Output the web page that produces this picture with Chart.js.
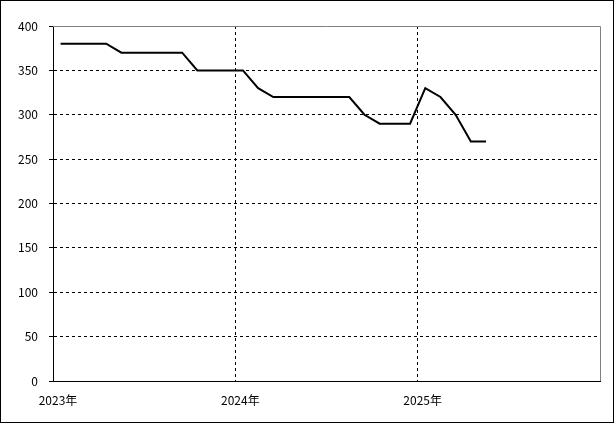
<!DOCTYPE html>
<html>
<head>
<meta charset="utf-8">
<script src="https://cdn.jsdelivr.net/npm/chart.js@4"></script>
<style>
    html, body { margin: 0; padding: 0; background: #fff; }
    #wrap { width: 615px; height: 424px; position: relative; }
</style>
</head>
<body>
<div id="wrap"><canvas id="chart" width="615" height="424"></canvas></div>
<script>
const CHART = document.getElementById("chart").getContext("2d");

// monthly values, Jan 2023 .. May 2025
const months = [
    "2023-01", "2023-02", "2023-03", "2023-04", "2023-05", "2023-06",
    "2023-07", "2023-08", "2023-09", "2023-10", "2023-11", "2023-12",
    "2024-01", "2024-02", "2024-03", "2024-04", "2024-05", "2024-06",
    "2024-07", "2024-08", "2024-09", "2024-10", "2024-11", "2024-12",
    "2025-01", "2025-02", "2025-03", "2025-04", "2025-05"
];
const values = [
    380, 380, 380, 380, 370, 370,
    370, 370, 370, 350, 350, 350,
    350, 330, 320, 320, 320, 320,
    320, 320, 300, 290, 290, 290,
    330, 320, 300, 270, 270
];
const yearLabels = ["2023年", "2024年", "2025年", ""];
const firstYear = 2023;

let points = [];
months.forEach(function (m, i) {
    let parts = m.split("-");
    let idx = (parseInt(parts[0]) - firstYear) * 12 + (parseInt(parts[1]) - 1);
    points.push({ x: idx + 0.5, y: values[i] });
});

const FONT = { family: "'Noto Sans CJK JP', 'DejaVu Sans', sans-serif", size: 12 };

const frame = {
    id: "frame",
    afterDraw(chart) {
        const ctx = chart.ctx;
        const a = chart.chartArea;
        ctx.save();
        ctx.strokeStyle = "#808080";
        ctx.lineWidth = 1;
        ctx.beginPath();
        ctx.moveTo(a.left, a.top + 0.5);
        ctx.lineTo(a.right + 0.5, a.top + 0.5);
        ctx.lineTo(a.right + 0.5, a.bottom);
        ctx.stroke();
        ctx.strokeStyle = "#000";
        ctx.strokeRect(0.5, 0.5, 613, 422);
        ctx.restore();
    }
};

let lineChart = new Chart(CHART, {
    type: "line",
    data: {
        datasets: [{
            data: points,
            borderColor: "#000",
            borderWidth: 2,
            pointRadius: 0,
            tension: 0,
            fill: false,
        }]
    },
    options: {
        responsive: false,
        animation: false,
        layout: { padding: { left: 0, top: 26, right: 15, bottom: 0 } },
        plugins: { legend: { display: false }, tooltip: { enabled: false } },
        scales: {
            x: {
                type: "linear",
                min: 0,
                max: 36,
                afterFit: function (s) { s.height = 43; },
                afterBuildTicks: function (s) {
                    s.ticks = [0, 12, 24, 36].map(function (v) { return { value: v }; });
                },
                ticks: {
                    color: "#000",
                    font: FONT,
                    padding: 12,
                    labelOffset: 5,
                    maxRotation: 0,
                    callback: function (v) { return yearLabels[v / 12]; }
                },
                grid: {
                    color: function (c) { return (c.tick.value === 0 || c.tick.value === 36) ? "rgba(0,0,0,0)" : "#000"; },
                    drawTicks: false,
                },
                border: { color: "#000", width: 1, dash: [3, 3] },
            },
            y: {
                min: 0,
                max: 400,
                afterFit: function (s) { s.width = 53; },
                ticks: {
                    stepSize: 50,
                    color: "#000",
                    font: FONT,
                    padding: 11,
                },
                grid: {
                    color: function (c) { return (c.tick.value === 0 || c.tick.value === 400) ? "rgba(0,0,0,0)" : "#000"; },
                    tickColor: "#000",
                    tickBorderDash: [],
                    tickLength: 4,
                },
                border: { color: "#000", width: 1, dash: [3, 3] },
            }
        }
    },
    plugins: [frame]
});
</script>
</body>
</html>
